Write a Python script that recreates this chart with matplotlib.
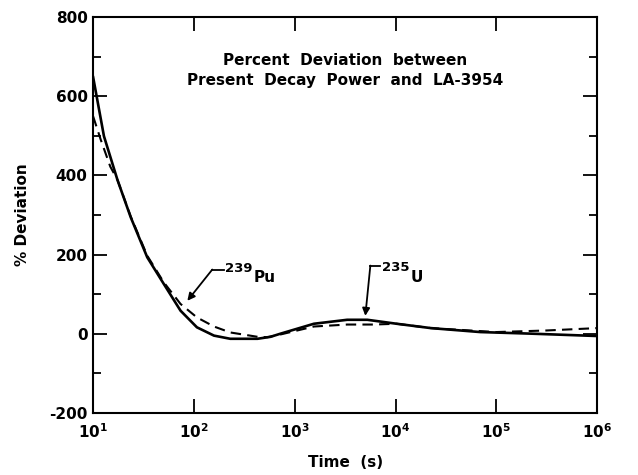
import matplotlib
matplotlib.use("Agg")
import matplotlib.pyplot as plt
from matplotlib.ticker import FixedLocator, NullLocator, MultipleLocator

# Data (time in seconds, % deviation)
u235_time = [10, 12.8, 17.4, 23.6, 34.4, 50.1, 73.6, 107, 158, 229, 427, 575, 724,
             1549, 3311, 5248, 10230, 22390, 69180, 218800, 1000000]
u235_dev = [648, 499, 389, 294, 193, 126, 58, 16, -5, -13, -13, -8, 0,
            25, 35, 35, 25, 14, 4, 0, -6]

pu239_time = [10, 11.9, 14.8, 17.4, 23.6, 34.4, 50.1, 73.6, 107, 158, 229, 427, 537, 724,
              1549, 3311, 6026, 10230, 22390, 100000, 316200, 1000000]
pu239_dev = [549, 490, 422, 389, 296, 197, 130, 75, 41, 18, 3, -8, -9, -2,
             18, 23, 23, 25, 14, 4, 8, 14]

y_ticks = [-200, 0, 200, 400, 600, 800]
x_ticks = [1e1, 1e2, 1e3, 1e4, 1e5, 1e6]
x_tick_labels = [r"$\mathbf{10^{1}}$", r"$\mathbf{10^{2}}$", r"$\mathbf{10^{3}}$",
                 r"$\mathbf{10^{4}}$", r"$\mathbf{10^{5}}$", r"$\mathbf{10^{6}}$"]

plt.rcParams['font.family'] = ['DejaVu Sans']
plt.rcParams['font.weight'] = 'bold'

fig = plt.figure(figsize=(6.38, 4.75), dpi=100)
ax = fig.add_axes([0.146, 0.131, 0.790, 0.833])

ax.plot(u235_time, u235_dev, color='black', lw=1.9, solid_joinstyle='round')
ax.plot(pu239_time, pu239_dev, color='black', lw=1.5, ls=(0, (5, 3)), dash_joinstyle='round')

ax.set_xscale('log')
ax.set_xlim(10, 1e6)
ax.set_ylim(-200, 800)

ax.xaxis.set_major_locator(FixedLocator(x_ticks))
ax.xaxis.set_minor_locator(NullLocator())
ax.set_xticklabels(x_tick_labels, fontsize=11)
ax.yaxis.set_major_locator(FixedLocator(y_ticks))
ax.yaxis.set_minor_locator(MultipleLocator(100))
ax.set_yticklabels([str(v) for v in y_ticks], fontsize=11, fontweight='bold')

ax.tick_params(which='major', direction='in', length=10, width=1.3,
               top=True, right=True)
ax.tick_params(axis='x', which='major', pad=7)
ax.tick_params(axis='y', which='major', pad=4)
ax.tick_params(which='minor', direction='in', length=6, width=1.3,
               top=True, right=True)
for s in ax.spines.values():
    s.set_linewidth(1.5)

ax.set_xlabel('Time  (s)', fontsize=11, fontweight='bold', labelpad=10)
ax.set_ylabel('% Deviation', fontsize=11, fontweight='bold', labelpad=14)

ax.text(0.5, 0.865, 'Percent  Deviation  between\nPresent  Decay  Power  and  LA-3954',
        transform=ax.transAxes, ha='center', va='center', fontsize=11,
        fontweight='bold', linespacing=1.4)

# Annotation: 239Pu
ax.plot([152, 198], [162, 162], color='black', lw=1.3)
ax.annotate('', xy=(86, 83), xytext=(152, 162),
            arrowprops=dict(arrowstyle='-|>', color='black', lw=1.3,
                            shrinkA=0, shrinkB=0, mutation_scale=11))
ax.text(205, 164, '239', fontsize=9.5, fontweight='bold', ha='left', va='center')
ax.text(395, 142, 'Pu', fontsize=11, fontweight='bold', ha='left', va='center')

# Annotation: 235U
ax.plot([5623, 7080], [172, 172], color='black', lw=1.3)
ax.annotate('', xy=(5012, 45), xytext=(5623, 172),
            arrowprops=dict(arrowstyle='-|>', color='black', lw=1.3,
                            shrinkA=0, shrinkB=0, mutation_scale=11))
ax.text(7400, 168, '235', fontsize=9.5, fontweight='bold', ha='left', va='center')
ax.text(14000, 142, 'U', fontsize=11, fontweight='bold', ha='left', va='center')

fig.savefig('out.png', dpi=100)
